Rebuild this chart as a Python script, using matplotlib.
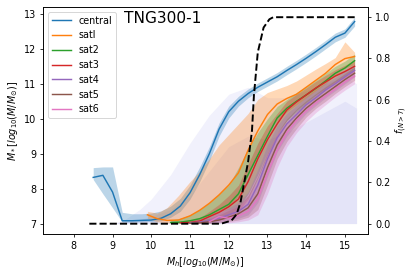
import matplotlib
matplotlib.use("Agg")
import matplotlib.pyplot as plt

# central galaxies
x_cen = [8.5, 8.75, 9.0, 9.25, 9.5, 9.75, 10.0, 10.25, 10.5, 10.75, 11.0, 11.25, 11.5, 11.75,
         12.0, 12.25, 12.5, 12.75, 13.0, 13.25, 13.5, 13.75, 14.0, 14.25, 14.5, 14.75, 15.0, 15.25]
y_cen = [8.32, 8.38, 7.9, 7.08, 7.08, 7.09, 7.1, 7.15, 7.28, 7.5, 7.88, 8.4, 9.0, 9.7,
         10.2, 10.5, 10.72, 10.9, 11.05, 11.2, 11.38, 11.55, 11.73, 11.92, 12.12, 12.33, 12.45, 12.78]
lo_cen = [8.26, 7.85, 7.45, 7.04, 7.04, 7.05, 7.06, 7.08, 7.18, 7.35, 7.7, 8.2, 8.8, 9.5,
          10.02, 10.36, 10.6, 10.78, 10.93, 11.08, 11.26, 11.43, 11.61, 11.8, 12.0, 12.2, 12.33, 12.65]
hi_cen = [8.6, 8.62, 8.62, 7.32, 7.28, 7.28, 7.3, 7.36, 7.5, 7.72, 8.1, 8.62, 9.2, 9.88,
          10.36, 10.64, 10.85, 11.02, 11.17, 11.32, 11.5, 11.67, 11.85, 12.04, 12.24, 12.45, 12.57, 12.9]

# satellites
x_s1 = [9.9, 10.15, 10.4, 10.7, 11.0, 11.25, 11.5, 11.75, 12.0, 12.25, 12.5, 12.75, 13.0,
        13.25, 13.5, 13.75, 14.0, 14.25, 14.5, 14.75, 15.0, 15.25]
y_s1 = [7.25, 7.14, 7.09, 7.1, 7.22, 7.38, 7.58, 7.82, 8.1, 8.45, 9.1, 9.65, 10.12,
        10.42, 10.58, 10.7, 10.9, 11.1, 11.3, 11.55, 11.72, 11.78]
lo_s1 = [7.15, 7.05, 7.02, 7.02, 7.05, 7.1, 7.2, 7.35, 7.5, 7.8, 8.4, 9.0, 9.6,
         9.95, 10.2, 10.4, 10.6, 10.8, 11.0, 11.25, 11.45, 11.55]
hi_s1 = [7.35, 7.3, 7.45, 7.8, 8.2, 8.5, 8.85, 9.25, 9.55, 9.85, 10.15, 10.55, 10.75,
         10.85, 10.95, 11.08, 11.25, 11.42, 11.58, 11.75, 12.2, 11.9]

x_s2 = [10.5, 10.75, 11.0, 11.25, 11.5, 11.75, 12.0, 12.25, 12.5, 12.75, 13.0, 13.25, 13.5,
        13.75, 14.0, 14.25, 14.5, 14.75, 15.0, 15.25]
y_s2 = [7.03, 7.04, 7.08, 7.14, 7.25, 7.4, 7.55, 7.85, 8.4, 8.95, 9.5, 10.02, 10.3,
        10.5, 10.68, 10.87, 11.08, 11.3, 11.45, 11.66]
lo_s2 = [7.0, 7.0, 7.02, 7.04, 7.08, 7.15, 7.25, 7.45, 7.85, 8.4, 9.05, 9.6, 9.95,
         10.2, 10.4, 10.6, 10.82, 11.05, 11.2, 11.42]
hi_s2 = [7.1, 7.15, 7.25, 7.4, 7.6, 7.85, 8.1, 8.6, 9.15, 9.6, 10.0, 10.35, 10.55,
         10.75, 10.92, 11.1, 11.3, 11.5, 11.65, 11.85]

x_s3 = [10.75, 11.0, 11.25, 11.5, 11.75, 12.0, 12.25, 12.5, 12.75, 13.0, 13.25, 13.5,
        13.75, 14.0, 14.25, 14.5, 14.75, 15.0, 15.25]
y_s3 = [7.02, 7.03, 7.07, 7.2, 7.32, 7.48, 7.7, 8.2, 8.85, 9.4, 9.85, 10.25,
        10.48, 10.68, 10.88, 11.05, 11.22, 11.35, 11.5]
lo_s3 = [7.0, 7.0, 7.02, 7.06, 7.12, 7.2, 7.35, 7.7, 8.3, 8.95, 9.5, 9.95,
         10.25, 10.47, 10.68, 10.86, 11.03, 11.17, 11.32]
hi_s3 = [7.08, 7.1, 7.16, 7.35, 7.55, 7.8, 8.1, 8.7, 9.3, 9.8, 10.15, 10.5,
         10.7, 10.88, 11.07, 11.24, 11.4, 11.53, 11.68]

x_s4 = [11.0, 11.25, 11.5, 11.75, 12.0, 12.25, 12.5, 12.75, 13.0, 13.25, 13.5, 13.75,
        14.0, 14.25, 14.5, 14.75, 15.0, 15.25]
y_s4 = [7.02, 7.04, 7.08, 7.15, 7.25, 7.35, 7.55, 8.1, 8.85, 9.45, 9.85, 10.12,
        10.4, 10.6, 10.82, 11.0, 11.2, 11.38]
lo_s4 = [7.0, 7.0, 7.02, 7.05, 7.1, 7.15, 7.25, 7.6, 8.35, 9.05, 9.5, 9.85,
         10.15, 10.38, 10.6, 10.8, 11.0, 11.2]
hi_s4 = [7.08, 7.12, 7.2, 7.3, 7.45, 7.6, 7.9, 8.55, 9.25, 9.8, 10.15, 10.38,
         10.62, 10.8, 11.02, 11.18, 11.38, 11.55]

x_s5 = [11.0, 11.25, 11.5, 11.75, 12.0, 12.25, 12.5, 12.75, 13.0, 13.25, 13.5, 13.75,
        14.0, 14.25, 14.5, 14.75, 15.0, 15.25]
y_s5 = [7.01, 7.02, 7.05, 7.1, 7.18, 7.28, 7.45, 7.85, 8.6, 9.25, 9.7, 10.02,
        10.3, 10.52, 10.72, 10.92, 11.12, 11.3]
lo_s5 = [7.0, 7.0, 7.0, 7.02, 7.06, 7.1, 7.18, 7.4, 8.1, 8.85, 9.35, 9.72,
         10.05, 10.3, 10.5, 10.72, 10.92, 11.1]
hi_s5 = [7.06, 7.08, 7.15, 7.25, 7.38, 7.5, 7.8, 8.35, 9.05, 9.6, 10.0, 10.28,
         10.52, 10.72, 10.92, 11.1, 11.3, 11.48]

x_s6 = [11.5, 11.75, 12.0, 12.25, 12.5, 12.75, 13.0, 13.25, 13.5, 13.75,
        14.0, 14.25, 14.5, 14.75, 15.0, 15.25]
y_s6 = [7.05, 7.2, 7.15, 7.22, 7.35, 7.7, 8.45, 9.1, 9.6, 9.95,
        10.22, 10.45, 10.65, 10.85, 11.05, 11.22]
lo_s6 = [7.0, 7.02, 7.02, 7.05, 7.1, 7.25, 7.85, 8.6, 9.2, 9.6,
         9.92, 10.18, 10.4, 10.62, 10.82, 11.0]
hi_s6 = [7.15, 7.35, 7.4, 7.5, 7.75, 8.25, 8.95, 9.5, 9.92, 10.22,
         10.45, 10.68, 10.88, 11.06, 11.25, 11.42]

# fraction of haloes with more than 7 members
x_frac = [8.4, 11.8, 12.07, 12.2, 12.3, 12.4, 12.5, 12.6, 12.65, 12.75, 12.9, 13.05, 13.15, 15.3]
f_frac = [0.0, 0.0, 0.015, 0.045, 0.1, 0.2, 0.3, 0.45, 0.62, 0.83, 0.95, 0.99, 1.0, 1.0]

# outline of the halo scatter cloud (sparse and dense parts)
x_cloud = [9.0, 9.3, 9.7, 10.0, 10.5, 11.0, 11.5, 12.0, 12.5, 13.0, 13.5, 14.0, 14.5, 15.0, 15.3]
top_sparse = [7.0, 7.1, 7.4, 7.7, 8.4, 9.3, 10.1, 10.7, 10.9, 10.6, 10.6, 10.8, 11.0, 11.2, 11.0]
top_dense = [7.0, 7.05, 7.12, 7.2, 7.4, 7.8, 8.5, 9.2, 9.5, 9.4, 9.6, 9.9, 10.2, 10.5, 10.3]

series = [
    ("central", x_cen, y_cen, lo_cen, hi_cen),
    ("satl", x_s1, y_s1, lo_s1, hi_s1),
    ("sat2", x_s2, y_s2, lo_s2, hi_s2),
    ("sat3", x_s3, y_s3, lo_s3, hi_s3),
    ("sat4", x_s4, y_s4, lo_s4, hi_s4),
    ("sat5", x_s5, y_s5, lo_s5, hi_s5),
    ("sat6", x_s6, y_s6, lo_s6, hi_s6),
]

fig = plt.figure(figsize=(6, 6 * 275 / 416), dpi=416 / 6)
ax = fig.add_axes([0.103, 0.149, 0.782, 0.826])

ax.fill_between(x_cloud, 7.0, top_sparse, color="#f1f1fc", lw=0, zorder=0)
ax.fill_between(x_cloud, 7.0, top_dense, color="#e4e4f8", lw=0, zorder=0)

for i, (name, x, y, lo, hi) in enumerate(series):
    c = "C%d" % i
    ax.fill_between(x, lo, hi, color=c, alpha=0.3, lw=0)
    ax.plot(x, y, color=c, label=name)

ax.set_xlim(7.2, 15.6)
ax.set_ylim(6.7, 13.2)
ax.set_xlabel(r"$M_h[log_{10}(M/M_{\odot})]$")
ax.set_ylabel(r"$M_*[log_{10}(M/M_{\odot})]$")
ax.legend(loc="upper left")
ax.text(0.25, 0.93, "TNG300-1", transform=ax.transAxes, fontsize=16)

ax2 = ax.twinx()
ax2.plot(x_frac, f_frac, "k--", lw=2)
ax2.set_ylim(-0.05, 1.05)
ax2.set_ylabel(r"$f_{(N>7)}$")

fig.savefig("out.png")
